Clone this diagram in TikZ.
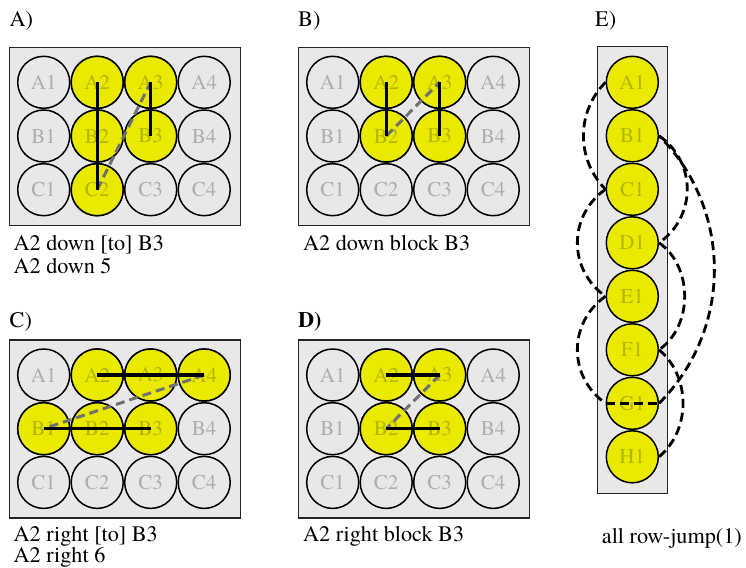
\documentclass[tikz,border=0pt]{standalone}
\usepackage{fontspec}
\setmainfont{texgyretermes}[Extension=.otf, UprightFont=*-regular, BoldFont=*-bold]
\definecolor{platefill}{HTML}{E8E8E8}
\definecolor{wellyellow}{HTML}{EAEA00}
\definecolor{txtgray}{HTML}{ADADAD}
\definecolor{txtyellow}{HTML}{B5B500}
\definecolor{jumpgray}{HTML}{707070}
\tikzset{
  plate/.style={draw=black!85, fill=platefill, line width=1.3pt},
  well/.style={circle, draw=black, line width=1.5pt, minimum size=52pt, inner sep=0pt,
    fill=platefill, text=txtgray, font=\fontsize{21}{24}\selectfont},
  sel/.style={fill=wellyellow, text=txtyellow},
  runline/.style={line width=3.4pt, black},
  jumpline/.style={line width=3pt, jumpgray, dash pattern=on 9pt off 5pt},
  ejump/.style={line width=2.8pt, black, dash pattern=on 9pt off 5pt},
  lbl/.style={anchor=base west, inner sep=0pt, font=\fontsize{22.2}{24}\selectfont}
}
\newcommand\drawplate[4]{%
  \draw[plate] ({#2-34},{#3-35}) rectangle ({#2+196.5},{#3+143});
  \foreach \r [count=\i from 0] in {A,B,C}{
    \foreach \c in {1,...,4}{
      \node[well] (#1\r\c) at ({#2+(\c-1)*53.5},{#3+\i*53.7}) {\r\c};
    }
  }
  \foreach \w in {#4}{
    \node[well,sel] (#1\w) at (#1\w) {\w};
  }
}
\begin{document}
\begin{tikzpicture}[x=1pt,y=-1pt]
\useasboundingbox (0,0) rectangle (746,567);
% panel labels
\node[lbl] (la) at (9.5,27) {A)};
\node[lbl] (lb) at (298,27) {B)};
\node[lbl] (lc) at (9.5,327) {C)};
\node[lbl] (ld) at (298,327) {\textbf{D)}};
\node[lbl] (le) at (595,27) {E)};
% A
\drawplate{a}{43.7}{82.3}{A2,A3,B2,B3,C2}
\draw[jumpline] (aC2.center) -- (aA3.center);
\draw[runline] (aA2.center) -- (aC2.center);
\draw[runline] (aA3.center) -- (aB3.center);
\node[lbl] (ca1) at (13.5,250) {A2 down [to] B3};
\node[lbl] (ca2) at (13.5,273.5) {A2 down 5};
% B
\drawplate{b}{332.7}{82.3}{A2,A3,B2,B3}
\draw[jumpline] (bB2.center) -- (bA3.center);
\draw[runline] (bA2.center) -- (bB2.center);
\draw[runline] (bA3.center) -- (bB3.center);
\node[lbl] (cb1) at (303,250) {A2 down block B3};
% C
\drawplate{c}{43.7}{375}{A2,A3,A4,B1,B2,B3}
\draw[jumpline] (cA4.center) -- (cB1.center);
\draw[runline] (cA2.center) -- (cA4.center);
\draw[runline] (cB1.center) -- (cB3.center);
\node[lbl] (cc1) at (13.5,541.7) {A2 right [to] B3};
\node[lbl] (cc2) at (13.5,562.5) {A2 right 6};
% D
\drawplate{d}{332.7}{375}{A2,A3,B2,B3}
\draw[jumpline] (dA3.center) -- (dB2.center);
\draw[runline] (dA2.center) -- (dA3.center);
\draw[runline] (dB2.center) -- (dB3.center);
\node[lbl] (cd1) at (303,541.7) {A2 right block B3};
% E
\draw[plate] (597.3,46.7) rectangle (667.3,493.3);
\foreach \r [count=\i from 0] in {A,B,C,D,E,F,G,H}{
  \node[well,sel] (e\r1) at (632.3,{82.3+\i*53.5}) {\r1};
}
\draw[ejump] (eA1.west) to[out=225,in=135] (eC1.west);
\draw[ejump] (eC1.west) to[out=215,in=145,looseness=1.1] (eE1.west);
\draw[ejump] (eE1.west) to[out=215,in=145,looseness=1.1] (eG1.west);
\draw[ejump] (eG1.west) -- (eG1.east);
\draw[ejump] (eG1.east) to[out=45,in=-45] (eB1.east);
\draw[ejump] (eB1.east) to[out=-35,in=35,looseness=1.1] (eD1.east);
\draw[ejump] (eD1.east) to[out=-35,in=35] (eF1.east);
\draw[ejump] (eF1.east) to[out=-40,in=40] (eH1.east);
\node[lbl] (ce1) at (601.7,543) {all row-jump(1)};
\end{tikzpicture}
\end{document}
